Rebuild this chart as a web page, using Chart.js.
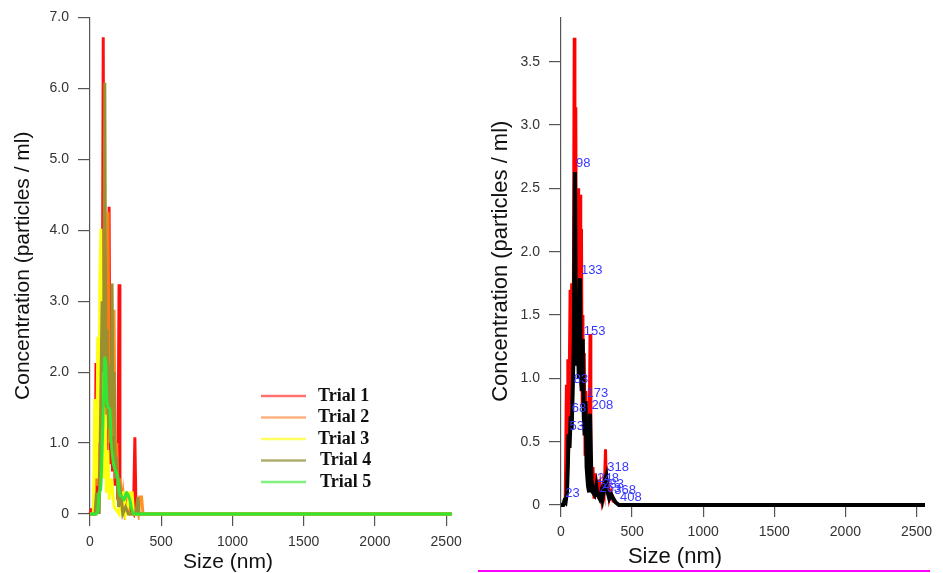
<!DOCTYPE html>
<html>
<head>
<meta charset="utf-8">
<script src="https://cdn.jsdelivr.net/npm/chart.js@4.4.0/dist/chart.umd.min.js"></script>
<style>
  body { margin: 0; background: #fff; width: 943px; height: 573px; overflow: hidden; position: relative; }
  .panel { position: absolute; top: 0; height: 573px; }
  #leftBox { left: 0; width: 470px; }
  #rightBox { left: 472px; width: 471px; }
  #pinkRule { position: absolute; left: 478px; top: 570px; width: 452px; height: 2px; background: #ff00ff; }
</style>
</head>
<body>
<div class="panel" id="leftBox"><canvas id="leftChart"></canvas></div>
<div class="panel" id="rightBox"><canvas id="rightChart"></canvas></div>
<div id="pinkRule"></div>
<script>
const sizeTicks = [0, 500, 1000, 1500, 2000, 2500];
const leftConcTicks = [0, 1, 2, 3, 4, 5, 6, 7];
const rightConcTicks = [0, 0.5, 1, 1.5, 2, 2.5, 3, 3.5];

const trialNames = ["Trial 1", "Trial 2", "Trial 3", "Trial 4", "Trial 5"];

// left panel, size (nm) / concentration
const trial1Size = [0, 8, 15, 20, 35, 42, 48, 58, 66, 75, 84, 93, 99, 108, 116, 125, 134, 141, 150, 158, 167, 176, 186, 195, 204, 210, 225, 240, 260, 285, 305, 315, 323, 2540];
const trial1Conc = [0, 0.06, 0.06, 0, 0, 2.13, 0.2, 0.9, 0.3, 1.4, 0.8, 6.72, 1.2, 2.6, 0.9, 1.8, 4.33, 0.7, 2.2, 0.6, 1.5, 0.4, 0.9, 0.2, 3.24, 0.1, 0.25, 0.05, 0.15, 0.05, 0, 1.08, 0, 0];

const trial2Size = [0, 22, 30, 40, 48, 58, 65, 75, 85, 95, 103, 112, 119, 127, 135, 146, 156, 169, 178, 188, 197, 210, 220, 232, 245, 260, 275, 320, 330, 340, 350, 362, 372, 2540];
const trial2Conc = [0, 0, 0.3, 1.1, 0.4, 2.41, 0.6, 1.9, 0.8, 3.3, 1.1, 2.4, 1.3, 4.26, 1.0, 2.0, 1.1, 2.88, 0.5, 1.0, 0.3, 0.5, 0.1, 0.3, 0, 0.2, 0, 0, 0.1, 0, 0.24, 0.24, 0, 0];

const trial3Size = [0, 25, 33, 41, 46, 55, 62, 70, 77, 84, 92, 100, 108, 115, 125, 135, 150, 170, 205, 218, 238, 250, 265, 280, 296, 305, 2540];
const trial3Conc = [0, 0, 1.6, 1.6, 0.5, 2.5, 1.0, 3.4, 4.02, 1.0, 2.4, 0.5, 1.4, 0.3, 0.9, 0.2, 0.5, 0.1, 0, 0.3, 0.3, 0, 0.1, 0.3, 0.3, 0, 0];

const trial4Size = [0, 35, 45, 50, 58, 65, 75, 85, 95, 104, 112, 120, 130, 140, 148, 155, 162, 170, 178, 188, 200, 215, 230, 250, 270, 320, 328, 336, 345, 2540];
const trial4Conc = [0, 0, 0.3, 0.1, 0.3, 0, 1.5, 3.0, 2.0, 6.08, 1.5, 2.6, 1.2, 2.1, 1.0, 3.25, 1.5, 2.0, 0.5, 0.8, 0.1, 0.3, 0, 0.1, 0, 0, 0.1, 0.24, 0, 0];

const trial5Size = [0, 45, 55, 65, 75, 85, 95, 103, 110, 118, 128, 139, 150, 165, 180, 193, 205, 217, 227, 240, 255, 267, 280, 295, 313, 2540];
const trial5Conc = [0, 0, 0.05, 0.3, 0.35, 0.9, 1.6, 2.2, 2.15, 1.6, 1.5, 1.48, 1.0, 0.7, 0.6, 0.55, 0.3, 0.25, 0.24, 0.2, 0.3, 0.27, 0.2, 0.05, 0, 0];

// right panel: raw (red) and averaged (black) curves
const rawSize = [0, 20, 30, 38, 43, 48, 53, 58, 64, 69, 75, 81, 87, 93, 98, 104, 109, 114, 119, 124, 129, 134, 139, 144, 149, 154, 159, 164, 169, 175, 182, 189, 196, 204, 210, 217, 225, 232, 240, 250, 258, 266, 276, 286, 296, 304, 313, 320, 330, 340, 352, 366, 385, 405, 2560];
const rawConc = [0, 0, 0.05, 0.95, 0.3, 1.15, 0.4, 1.0, 1.7, 0.8, 1.75, 1.2, 1.7, 3.69, 1.5, 3.14, 1.4, 2.0, 1.2, 2.5, 1.3, 2.45, 1.0, 2.18, 0.8, 1.5, 0.6, 1.2, 0.4, 0.9, 0.3, 0.5, 0.2, 1.35, 0.3, 0.1, 0.3, 0.05, 0.25, 0.1, 0.2, 0.05, 0.15, 0.05, 0.15, 0.1, 0.44, 0.1, 0.2, 0.05, 0.1, 0.03, 0.02, 0, 0];

const avgSize = [0, 15, 23, 32, 42, 48, 53, 60, 68, 75, 83, 90, 98, 104, 111, 118, 125, 133, 140, 146, 153, 160, 166, 173, 180, 190, 198, 204, 208, 214, 224, 236, 248, 255, 263, 272, 283, 292, 302, 310, 318, 328, 340, 355, 368, 385, 408, 420, 2560];
const avgConc = [0, 0, 0.03, 0.02, 0.1, 0.3, 0.56, 0.45, 0.7, 0.6, 0.93, 1.3, 2.63, 1.5, 1.1, 1.35, 1.0, 1.79, 1.0, 0.9, 1.31, 0.7, 0.55, 0.82, 0.3, 0.15, 0.1, 0.72, 0.72, 0.2, 0.1, 0.08, 0.15, 0.08, 0.07, 0.05, 0.1, 0.05, 0.12, 0.2, 0.23, 0.1, 0.05, 0.08, 0.05, 0.02, 0, 0, 0];

const peakSize = [23, 53, 68, 83, 98, 133, 153, 173, 208, 248, 263, 283, 318, 368, 408];
const peakConc = [0.03, 0.56, 0.7, 0.93, 2.63, 1.79, 1.31, 0.82, 0.72, 0.15, 0.07, 0.1, 0.23, 0.05, 0];

const trialColors = ["#ff1010", "rgba(255,135,20,0.9)", "#ffff10", "#9a9030", "#33e633"];
const legendColors = ["#ff7070", "#ffb080", "#ffff60", "#b0ad70", "#80f080"];

const sans = "'Liberation Sans', Arial, sans-serif";

function toPoints(xs, ys) {
  return xs.map((x, i) => ({ x: x, y: ys[i] }));
}

function sizeAxis(maxSize, boxHeight, labelPad) {
  return {
    type: "linear",
    min: 0,
    max: maxSize,
    afterBuildTicks: s => { s.ticks = sizeTicks.map(v => ({ value: v })); },
    afterFit: s => { s.height = boxHeight; },
    border: { display: false },
    grid: { drawOnChartArea: false, drawTicks: true, tickLength: 12, color: "#555", lineWidth: 1.2 },
    ticks: { padding: labelPad, color: "#333", font: { family: sans, size: 14 }, maxRotation: 0, callback: v => String(v) }
  };
}

function concAxis(tickList, maxConc, boxWidth, titleSize, titlePad) {
  return {
    type: "linear",
    min: 0,
    max: maxConc,
    afterBuildTicks: s => { s.ticks = tickList.map(v => ({ value: v })); },
    afterFit: s => { s.width = boxWidth; },
    border: { display: true, color: "#555", width: 1.2 },
    grid: { drawOnChartArea: false, drawTicks: true, tickLength: 12, color: "#555", lineWidth: 1.2 },
    ticks: { padding: 9, color: "#333", font: { family: sans, size: 14 }, callback: v => v === 0 ? "0" : v.toFixed(1) },
    title: { display: true, text: "Concentration (particles / ml)", color: "#111", font: { family: sans, size: titleSize }, padding: { top: titlePad, bottom: 0 } }
  };
}

// x title sits left of the axis centre in the original, so it is drawn here
const sizeTitle = {
  id: "sizeTitle",
  afterDraw(chart, args, opts) {
    const ctx = chart.ctx;
    ctx.save();
    ctx.font = opts.size + "px " + sans;
    ctx.fillStyle = "#111";
    ctx.textAlign = "center";
    ctx.textBaseline = "middle";
    ctx.fillText("Size (nm)", opts.x, opts.y);
    ctx.restore();
  }
};

const trialLegend = {
  id: "trialLegend",
  afterDraw(chart) {
    const ctx = chart.ctx;
    ctx.save();
    ctx.font = "bold 18px 'Liberation Serif', 'Times New Roman', serif";
    ctx.textBaseline = "middle";
    ctx.fillStyle = "#111";
    trialNames.forEach((name, i) => {
      const y = 396 + i * 21.5;
      ctx.strokeStyle = legendColors[i];
      ctx.lineWidth = 2.5;
      ctx.beginPath();
      ctx.moveTo(261, y);
      ctx.lineTo(306, y);
      ctx.stroke();
      ctx.fillText(name, i > 2 ? 320 : 318, y);
    });
    ctx.restore();
  }
};

const peakLabels = {
  id: "peakLabels",
  afterDatasetsDraw(chart) {
    const ctx = chart.ctx;
    const xs = chart.scales.x, ys = chart.scales.y;
    ctx.save();
    ctx.font = "13px " + sans;
    ctx.fillStyle = "#3838ff";
    ctx.textBaseline = "middle";
    peakSize.forEach((s, i) => {
      ctx.fillText(String(s), xs.getPixelForValue(s) + 1, ys.getPixelForValue(peakConc[i]) - 8);
    });
    ctx.restore();
  }
};

const trialSets = [
  [trial1Size, trial1Conc],
  [trial2Size, trial2Conc],
  [trial3Size, trial3Conc],
  [trial4Size, trial4Conc],
  [trial5Size, trial5Conc]
];

new Chart(document.getElementById("leftChart"), {
  type: "line",
  data: {
    datasets: trialSets.map((t, i) => ({
      label: trialNames[i],
      data: toPoints(t[0], t[1]),
      borderColor: trialColors[i],
      borderWidth: 3,
      pointRadius: 0,
      tension: i === 4 ? 0.35 : 0,
      clip: 6,
      order: 5 - i
    }))
  },
  options: {
    responsive: true,
    maintainAspectRatio: false,
    animation: false,
    layout: { padding: { top: 14, right: 14, left: 0, bottom: 0 } },
    plugins: {
      legend: { display: false },
      tooltip: { enabled: false },
      sizeTitle: { x: 228, y: 562, size: 21 }
    },
    scales: {
      x: sizeAxis(2550, 59, 8),
      y: concAxis(leftConcTicks, 7, 90, 21, 11)
    }
  },
  plugins: [trialLegend, sizeTitle]
});

new Chart(document.getElementById("rightChart"), {
  type: "line",
  data: {
    datasets: [
      { label: "raw", data: toPoints(rawSize, rawConc), borderColor: "#ff0000", borderWidth: 3, pointRadius: 0, tension: 0, clip: 6, order: 1 },
      { label: "average", data: toPoints(avgSize, avgConc), borderColor: "#000", borderWidth: 4, pointRadius: 0, tension: 0, clip: 6, order: 0 }
    ]
  },
  options: {
    responsive: true,
    maintainAspectRatio: false,
    animation: false,
    layout: { padding: { top: 10, right: 18, left: 0, bottom: 0 } },
    plugins: {
      legend: { display: false },
      tooltip: { enabled: false },
      sizeTitle: { x: 675 - 472, y: 557, size: 22 }
    },
    scales: {
      x: sizeAxis(2560, 68, 7),
      y: concAxis(rightConcTicks, 3.85, 89, 22, 16)
    }
  },
  plugins: [peakLabels, sizeTitle]
});
</script>
</body>
</html>
